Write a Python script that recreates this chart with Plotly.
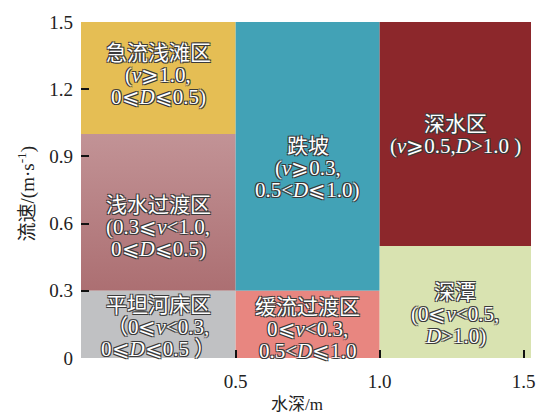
import plotly.graph_objects as go

# Flow-velocity / water-depth habitat zones
zone_names = ["急流浅滩区", "浅水过渡区", "平坦河床区", "跌坡", "缓流过渡区", "深水区", "深潭"]
# depth bounds D (m); None = open-ended (runs to the axis edge)
depth_lo = [None, None, None, 0.5, 0.5, 1.0, 1.0]
depth_hi = [0.5, 0.5, 0.5, 1.0, 1.0, None, None]
# velocity bounds v (m/s)
vel_lo = [1.0, 0.3, 0.0, 0.3, 0.0, 0.5, 0.0]
vel_hi = [1.5, 1.0, 0.3, 1.5, 0.3, 1.5, 0.5]
zone_rules = [
    ["(<i>v</i>⩾1.0,", "0⩽<i>D</i>⩽0.5)"],
    ["(0.3⩽<i>v</i>&lt;1.0,", "0⩽<i>D</i>⩽0.5)"],
    ["（0⩽<i>v</i>&lt;0.3,", "0⩽<i>D</i>⩽0.5 ）"],
    ["(<i>v</i>⩾0.3,", "0.5&lt;<i>D</i>⩽1.0)"],
    ["0⩽<i>v</i>&lt;0.3,", "0.5&lt;<i>D</i>⩽1.0"],
    ["(<i>v</i>⩾0.5,<i>D</i>&gt;1.0 )"],
    ["(0⩽<i>v</i>&lt;0.5,", "<i>D</i>&gt;1.0)"],
]

x_ticks = [0.5, 1.0, 1.5]
y_ticks = [0, 0.3, 0.6, 0.9, 1.2, 1.5]

# styling
zone_colors = ["#E5BE54", None, "#C0C1C3", "#42A2B6", "#E88680", "#8C272B", "#D9E3B1"]
gradient_zone = 1
gradient_stops = [[0, "#AC6F72"], [1, "#C29396"]]
label_nudge = [0.012, -0.065, -0.01, -0.05, -0.02, -0.005, -0.055]

X_RANGE = [-0.037, 1.5255]
Y_RANGE = [0, 1.5]
SERIF = "Liberation Serif, Noto Sans CJK SC, DejaVu Serif"
OUTLINE = "-1px -1px 0 #3a3a3a, 1px -1px 0 #3a3a3a, -1px 1px 0 #3a3a3a, 1px 1px 0 #3a3a3a"
LINE_PITCH = 22

fig = go.Figure()
annotations = []
for i, name in enumerate(zone_names):
    x0 = X_RANGE[0] if depth_lo[i] is None else depth_lo[i]
    x1 = X_RANGE[1] if depth_hi[i] is None else depth_hi[i]
    y0, y1 = vel_lo[i], vel_hi[i]
    trace = dict(
        x=[x0, x1, x1, x0, x0], y=[y0, y0, y1, y1, y0],
        mode="lines", fill="toself", line=dict(width=0),
        hoverinfo="skip", showlegend=False,
    )
    if i == gradient_zone:
        trace["fillgradient"] = dict(type="vertical", colorscale=gradient_stops)
    else:
        trace["fillcolor"] = zone_colors[i]
    fig.add_trace(go.Scatter(**trace))

    lines = [name] + zone_rules[i]
    cx = (x0 + x1) / 2
    cy = (y0 + y1) / 2 + label_nudge[i]
    n = len(lines)
    for k, txt in enumerate(lines):
        annotations.append(dict(
            x=cx, y=cy, xref="x", yref="y", text=txt, showarrow=False,
            yshift=((n - 1) / 2 - k) * LINE_PITCH,
            font=dict(family=SERIF, size=21, color="white", shadow=OUTLINE),
        ))

annotations.append(dict(
    x=-0.122, y=0.49, xref="paper", yref="paper", textangle=-90,
    text="流速/(m·s<sup>-1</sup>)", showarrow=False,
    xanchor="center", yanchor="middle",
    font=dict(family=SERIF, size=19, color="#222"),
))
annotations.append(dict(
    x=0.48, y=-0.137, xref="paper", yref="paper",
    text="水深/m", showarrow=False, xanchor="center", yanchor="middle",
    font=dict(family=SERIF, size=17, color="#222"),
))

fig.update_layout(
    width=553, height=415,
    margin=dict(l=81, r=22, t=16, b=57),
    paper_bgcolor="white", plot_bgcolor="white",
    annotations=annotations,
    xaxis=dict(
        range=X_RANGE, tickvals=x_ticks, ticktext=[f"{v:.1f}" for v in x_ticks],
        ticks="inside", ticklen=8, tickwidth=1.5, tickcolor="#111",
        ticklabelstandoff=10,
        showgrid=False, zeroline=False, showline=False,
        tickfont=dict(family=SERIF, size=19, color="#222"),
    ),
    yaxis=dict(
        range=Y_RANGE, tickvals=y_ticks,
        ticktext=["0" if v == 0 else f"{v:.1f}" for v in y_ticks],
        ticks="inside", ticklen=8, tickwidth=1.5, tickcolor="#111",
        ticklabelstandoff=7,
        showgrid=False, zeroline=False, showline=False,
        tickfont=dict(family=SERIF, size=19, color="#222"),
    ),
)

fig.write_html("out.html")
